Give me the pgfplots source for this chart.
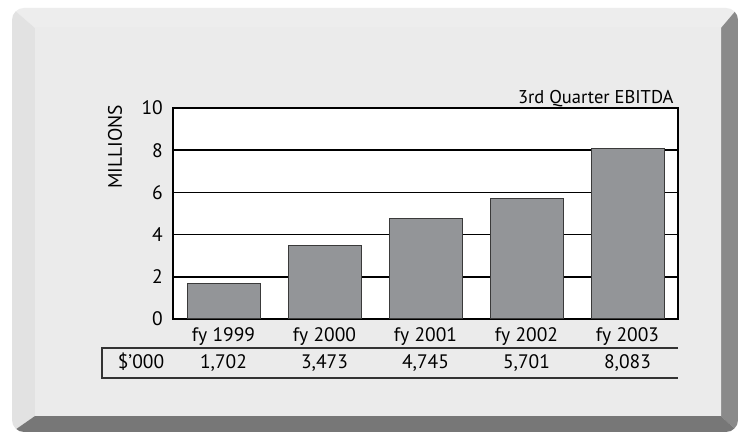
\documentclass[border=0pt]{standalone}
\usepackage{pgfplots}
\pgfplotsset{compat=1.18}
\usepackage{fontspec}
\setmainfont{PT Sans}
\definecolor{barfill}{HTML}{939598}
\definecolor{baredge}{HTML}{3A3A3A}
\definecolor{bevtop}{HTML}{EDEDED}
\definecolor{bevleft}{HTML}{E2E2E2}
\definecolor{bevright}{HTML}{8A8A8A}
\definecolor{bevbottom}{HTML}{777777}
\newcommand\lab{\fontsize{19.5}{22}\selectfont}
\begin{document}
\begin{tikzpicture}[x=1pt,y=1pt]
\useasboundingbox (0,0) rectangle (744,433);
\fill[white] (0,0) rectangle (744,433);
\begin{scope}
\clip[rounded corners=12pt] (12,1) rectangle (738,425);
\fill[bevtop] (12,425)--(738,425)--(721,405)--(35,405)--cycle;
\fill[bevleft] (12,425)--(35,405)--(35,17)--(12,1)--cycle;
\fill[bevright] (738,425)--(738,1)--(721,17)--(721,405)--cycle;
\fill[bevbottom] (12,1)--(738,1)--(721,17)--(35,17)--cycle;
\end{scope}
\shade[left color=gray!16, middle color=white, right color=gray!16] (35,17) rectangle (721,405);
% table lines
\draw[line width=1.3pt, black!80] (678,85)--(102,85)--(102,55)--(678,55);
\node[anchor=base, font=\lab] at (141,64) {\$'000};
\node[anchor=base east, font=\fontsize{18.5}{21}\selectfont] at (677,329) {3rd Quarter EBITDA};
\node[rotate=90, font=\lab] at (115,286) {MILLIONS};
\begin{axis}[
  at={(173pt,114pt)}, anchor=south west,
  scale only axis, width=505pt, height=211pt,
  xmin=-0.5, xmax=4.5, ymin=0, ymax=10,
  ytick={0,2,4,6,8,10},
  xtick={0,1,2,3,4},
  xticklabels={fy 1999,fy 2000,fy 2001,fy 2002,fy 2003},
  ymajorgrids, grid style={black, line width=1.6pt},
  axis line style={black, line width=1.6pt},
  major tick length=0pt,
  axis background/.style={fill=white},
  clip=false,
  tick label style={font=\lab},
  /pgf/number format/assume math mode=true,
  yticklabel style={inner sep=0pt, xshift=-10pt},
  xticklabel style={anchor=base, inner sep=0pt, yshift=-23pt},
  ybar, bar width=73pt,
]
\addplot[fill=barfill, draw=baredge, line width=1pt] coordinates {(0,1.702) (1,3.473) (2,4.745) (3,5.701) (4,8.083)};
\node[anchor=base, font=\lab, yshift=-50pt] at (axis cs:0,0) {1,702};
\node[anchor=base, font=\lab, yshift=-50pt] at (axis cs:1,0) {3,473};
\node[anchor=base, font=\lab, yshift=-50pt] at (axis cs:2,0) {4,745};
\node[anchor=base, font=\lab, yshift=-50pt] at (axis cs:3,0) {5,701};
\node[anchor=base, font=\lab, yshift=-50pt] at (axis cs:4,0) {8,083};
\end{axis}
\end{tikzpicture}
\end{document}
